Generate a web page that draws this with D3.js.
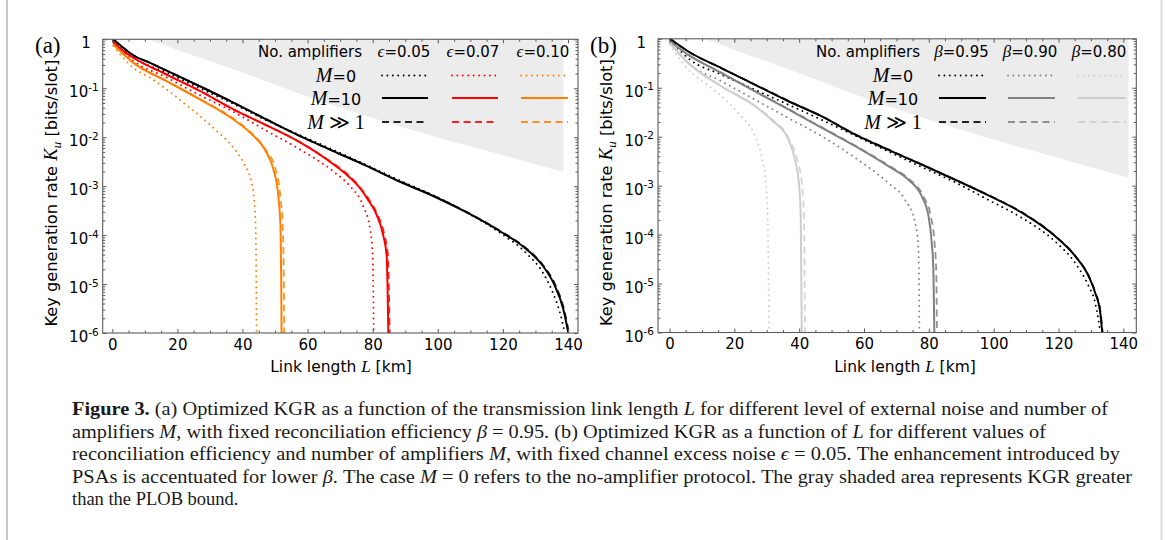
<!DOCTYPE html>
<html>
<head>
<meta charset="utf-8">
<script src="https://cdn.jsdelivr.net/npm/d3@7"></script>
<style>
  body { margin: 0; background: #fff; }
  svg { display: block; }
</style>
</head>
<body>
<svg id="fig" width="1165" height="540"></svg>
<script>
// ---- data: [L (km), K_u (bits/slot)] ----
// panel (a): beta = 0.95, eps varies
const aShade = [[11.0,1],[21.8,0.55],[37.2,0.245],[57.7,0.076],[78.1,0.027],[98.6,0.0105],[119.1,0.0045],[138.6,0.00195]];

const aE005M0 = [[0.3,0.95],[6.5,0.42],[16.7,0.21],[26.9,0.1],[37.2,0.048],[47.4,0.022],[57.7,0.011],[67.9,0.0055],[78.1,0.0027],[88.4,0.0013],[98.6,6.5e-4],[108.9,2.9e-4],[119.1,1.12e-4],[127.3,4.2e-5],[132.4,1.66e-5],[135.5,6.3e-6],[137.6,2.5e-6],[139.0,1e-6]];
const aE005M10 = [[0.3,1],[2.4,0.76],[6.5,0.47],[11.6,0.33],[16.7,0.23],[26.9,0.11],[37.2,0.051],[47.4,0.023],[57.7,0.0105],[67.9,0.0052],[78.1,0.0026],[88.4,0.00123],[98.6,6.3e-4],[108.9,2.9e-4],[119.1,1.2e-4],[127.3,5.1e-5],[132.4,2.3e-5],[136.0,9.1e-6],[138.6,3.0e-6],[140.1,1e-6]];
const aE005Minf = [[0.3,1],[2.4,0.76],[6.5,0.47],[11.6,0.33],[16.7,0.23],[26.9,0.11],[37.2,0.051],[47.4,0.023],[57.7,0.0105],[67.9,0.0052],[78.1,0.0026],[88.4,0.00124],[98.6,6.4e-4],[108.9,2.95e-4],[119.1,1.22e-4],[127.3,5.3e-5],[132.4,2.4e-5],[136.2,9.3e-6],[138.8,3.0e-6],[140.3,1e-6]];

const aE007M0 = [[0.3,0.88],[6.5,0.36],[16.7,0.166],[26.9,0.072],[37.2,0.033],[47.4,0.0135],[57.7,0.0056],[67.9,0.002],[73.0,0.001],[77.1,3.9e-4],[79.2,1.32e-4],[80.0,3.7e-5],[80.2,6.3e-6],[80.3,1e-6]];
const aE007M10 = [[0.3,0.88],[2.4,0.65],[6.5,0.42],[16.7,0.19],[26.9,0.088],[37.2,0.037],[47.4,0.0174],[57.7,0.0078],[67.9,0.0028],[72.5,0.0016],[75.6,0.001],[78.6,5.2e-4],[81.2,2.6e-4],[83.3,9.5e-5],[84.3,3.7e-5],[84.6,6.3e-6],[84.8,1e-6]];
const aE007Minf = [[0.3,0.88],[2.4,0.65],[6.5,0.42],[16.7,0.19],[26.9,0.088],[37.2,0.037],[47.4,0.0175],[57.7,0.0079],[67.9,0.0029],[72.5,0.0017],[75.8,0.001],[78.9,5.3e-4],[81.5,2.6e-4],[83.6,1.0e-4],[84.7,3.7e-5],[85.0,6.3e-6],[85.2,1e-6]];

const aE010M0 = [[0.3,0.73],[6.5,0.26],[11.6,0.164],[16.7,0.095],[21.8,0.051],[26.9,0.027],[32.1,0.0134],[37.2,0.0061],[40.3,0.003],[42.8,0.00117],[43.8,3.4e-4],[44.1,9.5e-5],[44.3,1e-6]];
const aE010M10 = [[0.3,0.79],[6.5,0.33],[16.7,0.14],[26.9,0.059],[37.2,0.023],[42.3,0.0124],[47.4,0.0048],[49.5,0.0022],[51.0,6.3e-4],[51.7,1.32e-4],[51.9,1e-5],[52.0,1e-6]];
const aE010Minf = [[0.3,0.79],[6.5,0.33],[16.7,0.14],[26.9,0.06],[37.2,0.024],[42.3,0.013],[47.4,0.0052],[50.0,0.0024],[51.6,6.3e-4],[52.4,1.3e-4],[52.7,1e-5],[52.8,1e-6]];

// panel (b): eps = 0.05, beta varies
const bShade = [[11.0,1],[21.8,0.54],[37.2,0.234],[57.7,0.071],[78.1,0.0245],[98.6,0.0093],[119.1,0.0038],[141.6,0.00145]];

const bB095M0 = [[0.3,0.95],[5.8,0.40],[16.1,0.184],[26.4,0.091],[36.7,0.045],[47.0,0.022],[57.3,0.0105],[67.5,0.005],[77.8,0.0024],[88.1,0.00117],[98.4,5.1e-4],[108.7,2.2e-4],[119.0,7.2e-5],[125.2,2.6e-5],[129.3,8.9e-6],[131.3,4.1e-6],[132.3,1.86e-6],[132.9,1e-6]];
const bB095M10 = [[0.15,1],[5.8,0.55],[16.1,0.25],[26.4,0.115],[36.7,0.053],[47.0,0.026],[57.3,0.011],[67.5,0.0054],[77.8,0.0027],[88.1,0.00132],[98.4,6.3e-4],[108.7,2.8e-4],[119.0,9.2e-5],[125.2,3.6e-5],[129.3,1.41e-5],[131.3,6.5e-6],[132.9,2.5e-6],[133.5,1e-6]];
const bB095Minf = [[0.15,1],[5.8,0.55],[16.1,0.25],[26.4,0.116],[36.7,0.054],[47.0,0.026],[57.3,0.0112],[67.5,0.0055],[77.8,0.0027],[88.1,0.00133],[98.4,6.4e-4],[108.7,2.85e-4],[119.0,9.4e-5],[125.3,3.6e-5],[129.4,1.4e-5],[131.4,6.5e-6],[133.0,2.5e-6],[133.6,1e-6]];

const bB090M0 = [[0.15,0.88],[5.8,0.32],[16.1,0.135],[26.4,0.057],[36.7,0.024],[47.0,0.0102],[57.3,0.0037],[67.5,0.00113],[72.7,5.1e-4],[75.8,1.74e-4],[76.8,4.9e-5],[77.1,1e-6]];
const bB090M10 = [[0.15,0.88],[5.8,0.47],[16.1,0.2],[26.4,0.084],[36.7,0.036],[47.0,0.0151],[57.3,0.0064],[67.5,0.0025],[73.7,0.00132],[77.8,6.1e-4],[79.9,2.4e-4],[80.9,6.8e-5],[81.4,1.93e-5],[81.7,1e-6]];
const bB090Minf = [[0.15,0.88],[5.8,0.47],[16.1,0.2],[26.4,0.085],[36.7,0.037],[47.0,0.0155],[57.3,0.0066],[67.5,0.0026],[73.7,0.0014],[78.3,6.1e-4],[80.6,2.4e-4],[81.8,6.3e-5],[82.3,1.6e-5],[82.5,1e-6]];

const bB080M0 = [[0.15,0.755],[5.8,0.233],[11.0,0.124],[16.1,0.067],[21.3,0.03],[26.4,0.0102],[28.4,0.004],[29.7,0.00113],[30.3,2.0e-4],[30.7,1e-6]];
const bB080M10 = [[0.15,0.82],[5.8,0.32],[16.1,0.106],[26.4,0.042],[31.5,0.022],[36.7,0.0087],[38.7,0.0034],[40.0,9.7e-4],[40.5,2.0e-4],[40.8,1e-6]];
const bB080Minf = [[0.15,0.82],[5.8,0.32],[16.1,0.107],[26.4,0.043],[31.5,0.023],[36.9,0.009],[39.5,0.0032],[40.9,0.001],[41.5,2.0e-4],[41.8,1e-6]];

// tick values / labels
const xMajorTicks = [0, 20, 40, 60, 80, 100, 120, 140];
const yDecades = [0, -1, -2, -3, -4, -5, -6];
const rowLabels = ['0', '10', '1'];
const aColumnLabels = ['0.05', '0.07', '0.10'];
const bColumnLabels = ['0.95', '0.90', '0.80'];

const SANS = "'DejaVu Sans', Verdana, sans-serif";
const SERIF = "'Liberation Serif', 'DejaVu Serif', serif";
const FRAME = '#5c5c5c';

const svg = d3.select('#fig');

// page box edges
svg.append('line').attr('x1', 7).attr('x2', 7).attr('y1', 0).attr('y2', 540)
  .attr('stroke', '#c8c8c8').attr('stroke-width', 2);
svg.append('line').attr('x1', 1161.5).attr('x2', 1161.5).attr('y1', 0).attr('y2', 540)
  .attr('stroke', '#dcdcdc').attr('stroke-width', 2);

const styles = {
  dotted: { w: 1.9, dash: '0.01 5.4', cap: 'round' },
  solid: { w: 2, dash: null, cap: 'butt' },
  dashed: { w: 1.8, dash: '7 4.5', cap: 'butt' }
};

const panels = [
  {
    id: 'a', tag: '(a)', tagX: 35, left: 102.7, right: 578, top: 39.3, bottom: 333,
    xDomain: [-2.95, 143.07], shade: aShade, symbol: '\u03F5', colLabels: aColumnLabels,
    ylabelX: 57, xlabelX: 341,
    headerEnd: 362, colCenters: [404, 473, 543], sampleX: [[382, 428], [452, 498], [521, 568]], rowCenter: 336,
    series: [
      { color: '#000000', M0: aE005M0, M10: aE005M10, Minf: aE005Minf },
      { color: '#ff0000', M0: aE007M0, M10: aE007M10, Minf: aE007Minf },
      { color: '#ff8000', M0: aE010M0, M10: aE010M10, Minf: aE010Minf }
    ]
  },
  {
    id: 'b', tag: '(b)', tagX: 590, left: 658, right: 1136.3, top: 38.8, bottom: 332.5,
    xDomain: [-3.55, 144.0], shade: bShade, symbol: '\u03B2', colLabels: bColumnLabels,
    ylabelX: 612, xlabelX: 905,
    headerEnd: 920, colCenters: [961.5, 1030, 1099], sampleX: [[939, 986], [1008, 1055], [1078, 1126]], rowCenter: 893,
    series: [
      { color: '#000000', M0: bB095M0, M10: bB095M10, Minf: bB095Minf },
      { color: '#808080', M0: bB090M0, M10: bB090M10, Minf: bB090Minf },
      { color: '#cdcdcd', M0: bB080M0, M10: bB080M10, Minf: bB080Minf }
    ]
  }
];

function styleLine(sel, color, st, opacity) {
  sel.attr('fill', 'none').attr('stroke', color).attr('stroke-width', st.w)
    .attr('stroke-linecap', st.cap).attr('stroke-opacity', opacity || 1);
  if (st.dash) sel.attr('stroke-dasharray', st.dash);
  return sel;
}

function drawPanel(p) {
  const x = d3.scaleLinear().domain(p.xDomain).range([p.left, p.right]);
  const y = d3.scaleLog().domain([1, 1e-6]).range([p.top, p.bottom]);
  const g = svg.append('g');

  svg.append('clipPath').attr('id', 'clip-' + p.id).append('rect')
    .attr('x', p.left).attr('y', p.top)
    .attr('width', p.right - p.left).attr('height', p.bottom - p.top);

  const plot = g.append('g').attr('clip-path', 'url(#clip-' + p.id + ')');

  // PLOB region
  const area = d3.area().x(d => x(d[0])).y0(y(1)).y1(d => y(d[1])).curve(d3.curveMonotoneX);
  plot.append('path').attr('d', area(p.shade)).attr('fill', '#ececec');

  // curves
  const line = d3.line().x(d => x(d[0])).y(d => y(d[1])).curve(d3.curveMonotoneX);
  p.series.forEach(s => {
    styleLine(plot.append('path').attr('d', line(s.M0)), s.color, styles.dotted);
    styleLine(plot.append('path').attr('d', line(s.M10)), s.color, styles.solid);
    styleLine(plot.append('path').attr('d', line(s.Minf)), s.color, styles.dashed, 0.85);
  });

  // axes, ticks pointing inwards on all four sides
  const xMinor = d3.range(0, 144, 5).filter(v => v % 20 !== 0);
  const yMajor = yDecades.map(k => Math.pow(10, k));
  const yMinor = [];
  yDecades.slice(1).forEach(k => { for (let m = 2; m <= 9; m++) yMinor.push(m * Math.pow(10, k)); });

  const axes = g.append('g');
  const bottomAxis = axes.append('g').attr('transform', `translate(0,${p.bottom})`)
    .call(d3.axisBottom(x).tickValues(xMajorTicks).tickSize(-4).tickPadding(6).tickFormat(d3.format('d')));
  axes.append('g').attr('transform', `translate(0,${p.bottom})`)
    .call(d3.axisBottom(x).tickValues(xMinor).tickSize(-2.5).tickFormat(''));
  axes.append('g').attr('transform', `translate(0,${p.top})`)
    .call(d3.axisTop(x).tickValues(xMajorTicks).tickSize(-4).tickFormat(''));
  axes.append('g').attr('transform', `translate(0,${p.top})`)
    .call(d3.axisTop(x).tickValues(xMinor).tickSize(-2.5).tickFormat(''));

  const leftAxis = axes.append('g').attr('transform', `translate(${p.left},0)`)
    .call(d3.axisLeft(y).tickValues(yMajor).tickSize(-4).tickFormat(''));
  axes.append('g').attr('transform', `translate(${p.left},0)`)
    .call(d3.axisLeft(y).tickValues(yMinor).tickSize(-2.5).tickFormat(''));
  axes.append('g').attr('transform', `translate(${p.right},0)`)
    .call(d3.axisRight(y).tickValues(yMajor).tickSize(-4).tickFormat(''));
  axes.append('g').attr('transform', `translate(${p.right},0)`)
    .call(d3.axisRight(y).tickValues(yMinor).tickSize(-2.5).tickFormat(''));

  axes.selectAll('.domain').remove();
  axes.selectAll('.tick line').attr('stroke', FRAME).attr('stroke-width', 1);

  bottomAxis.selectAll('text')
    .attr('font-family', SANS).attr('font-size', 15).attr('fill', '#000');

  // y tick labels with superscripts
  leftAxis.selectAll('.tick').each(function (d) {
    const k = Math.round(Math.log10(d));
    const t = d3.select(this).append('text')
      .attr('text-anchor', 'end').attr('y', 8.5)
      .attr('font-family', SANS).attr('font-size', 15).attr('fill', '#000');
    if (k === 0) {
      t.attr('x', -12).text('1');
    } else {
      t.attr('x', -4);
      t.append('tspan').text('10');
      t.append('tspan').attr('dy', -6.5).attr('font-size', 10.5).text('-' + (-k));
    }
  });

  // frame
  g.append('rect').attr('x', p.left).attr('y', p.top)
    .attr('width', p.right - p.left).attr('height', p.bottom - p.top)
    .attr('fill', 'none').attr('stroke', FRAME).attr('stroke-width', 1.1);

  // axis titles
  const xl = g.append('text').attr('x', p.xlabelX).attr('y', p.bottom + 39)
    .attr('text-anchor', 'middle').attr('font-family', SANS).attr('font-size', 15.5);
  xl.append('tspan').text('Link length ');
  xl.append('tspan').attr('font-family', SERIF).attr('font-style', 'italic').attr('font-size', 17).text('L');
  xl.append('tspan').text(' [km]');

  const yl = g.append('text')
    .attr('transform', `translate(${p.ylabelX},${(p.top + p.bottom) / 2 + 7}) rotate(-90)`)
    .attr('text-anchor', 'middle').attr('font-family', SANS).attr('font-size', 16.2);
  yl.append('tspan').text('Key generation rate ');
  yl.append('tspan').attr('font-family', SERIF).attr('font-style', 'italic').attr('font-size', 18.5).text('K');
  yl.append('tspan').attr('font-family', SERIF).attr('font-style', 'italic').attr('font-size', 13.5).attr('dy', 4).text('u');
  yl.append('tspan').attr('dy', -4).text(' [bits/slot]');

  // panel tag
  g.append('text').attr('x', p.tagX).attr('y', 53)
    .attr('font-family', SERIF).attr('font-size', 23).text(p.tag);

  // legend
  const lg = g.append('g');
  lg.append('text').attr('x', p.headerEnd).attr('y', 56.5).attr('text-anchor', 'end')
    .attr('font-family', SANS).attr('font-size', 15).text('No. amplifiers');
  p.colLabels.forEach((lab, i) => {
    const t = lg.append('text').attr('x', p.colCenters[i]).attr('y', 56.5).attr('text-anchor', 'middle')
      .attr('font-family', SANS).attr('font-size', 15);
    t.append('tspan').attr('font-family', SERIF).attr('font-style', 'italic').attr('font-size', 17).text(p.symbol);
    t.append('tspan').text('=' + lab);
  });

  const rowY = [75.5, 98, 122];
  const rowStyles = ['M0', 'M10', 'Minf'];
  const rowKinds = [styles.dotted, styles.solid, styles.dashed];
  rowLabels.forEach((lab, r) => {
    const t = lg.append('text').attr('x', p.rowCenter).attr('y', rowY[r] + 6.5)
      .attr('text-anchor', 'middle').attr('font-size', 16).attr('font-family', SANS);
    t.append('tspan').attr('font-family', SERIF).attr('font-style', 'italic').attr('font-size', 20).text('M');
    if (r < 2) {
      t.append('tspan').text('=' + lab);
    } else {
      t.append('tspan').attr('font-family', SERIF).attr('font-size', 20).text(' \u226B ' + lab);
    }
    p.series.forEach((s, i) => {
      styleLine(lg.append('line')
        .attr('x1', p.sampleX[i][0]).attr('x2', p.sampleX[i][1])
        .attr('y1', rowY[r]).attr('y2', rowY[r]), s.color, rowKinds[r], rowStyles[r] === 'Minf' ? 0.85 : 1);
    });
  });
}

panels.forEach(drawPanel);

// caption
const captionLines = [
  { w: 1036, segs: [['Figure 3.', 'b'], [' (a) Optimized KGR as a function of the transmission link length '], ['L', 'i'], [' for different level of external noise and number of']] },
  { w: 974, segs: [['amplifiers '], ['M', 'i'], [', with fixed reconciliation efficiency '], ['\u03B2', 'i'], [' = 0.95. (b) Optimized KGR as a function of '], ['L', 'i'], [' for different values of']] },
  { w: 1048, segs: [['reconciliation efficiency and number of amplifiers '], ['M', 'i'], [', with fixed channel excess noise '], ['\u03F5', 'i'], [' = 0.05. The enhancement introduced by']] },
  { w: 1060, segs: [['PSAs is accentuated for lower '], ['\u03B2', 'i'], ['. The case '], ['M', 'i'], [' = 0 refers to the no-amplifier protocol. The gray shaded area represents KGR greater']] },
  { w: null, segs: [['than the PLOB bound.']] }
];

const cap = svg.append('g').attr('font-family', SERIF).attr('font-size', 18.5).attr('fill', '#1a1a1a');
captionLines.forEach((ln, i) => {
  const t = cap.append('text').attr('x', 72).attr('y', 415 + i * 22.6);
  ln.segs.forEach(s => {
    const ts = t.append('tspan').text(s[0]);
    if (s[1] === 'b') ts.attr('font-weight', 'bold');
    if (s[1] === 'i') ts.attr('font-style', 'italic');
  });
  if (ln.w) t.attr('textLength', ln.w).attr('lengthAdjust', 'spacingAndGlyphs');
});
</script>
</body>
</html>
